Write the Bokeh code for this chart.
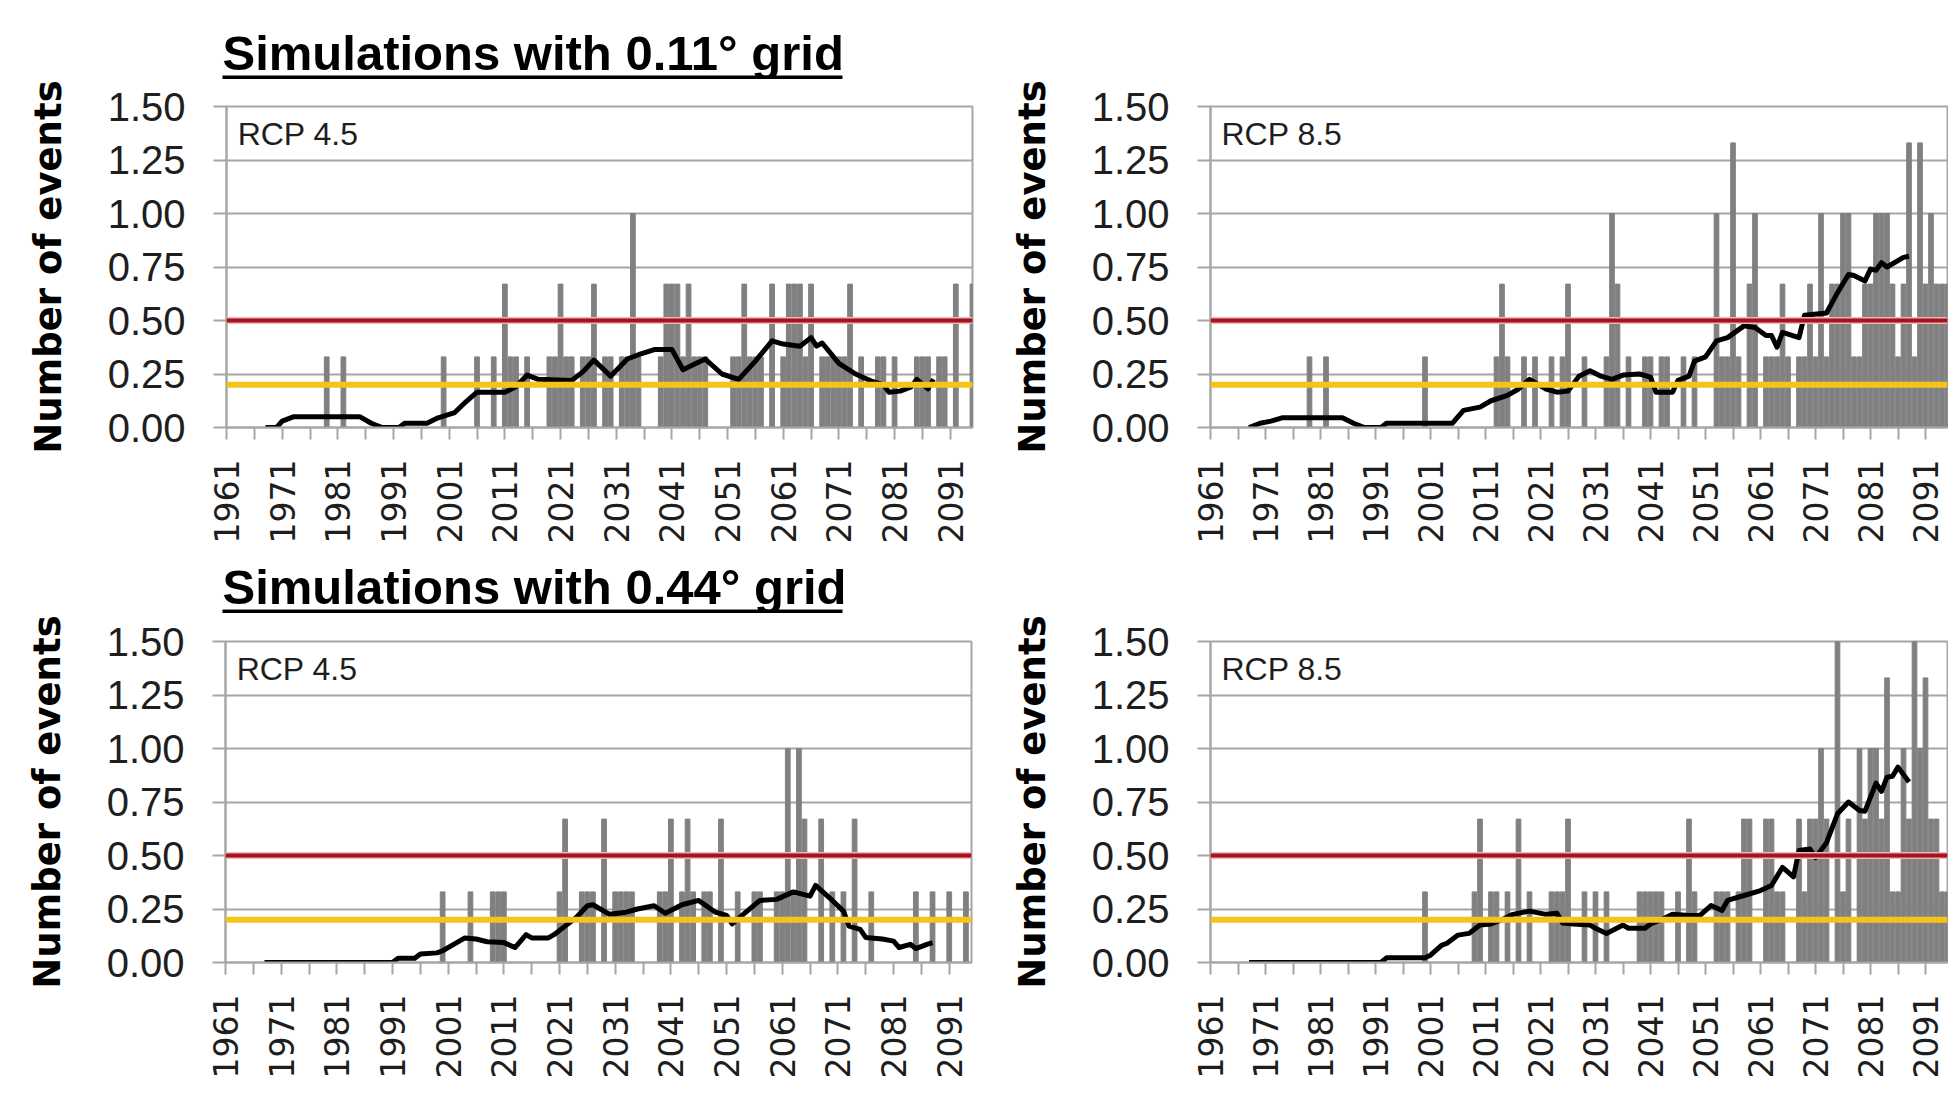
import math
from bokeh.plotting import figure
from bokeh.layouts import column, row
from bokeh.models import Range1d, FixedTicker, NumeralTickFormatter, Span, Label
from bokeh.core.properties import value
from bokeh.embed import file_html
from bokeh.resources import INLINE

# ---------------- data ----------------
title_top = "Simulations with 0.11\u00b0 grid"
title_bottom = "Simulations with 0.44\u00b0 grid"
y_label = "Number of events"
rcp_labels = ["RCP 4.5", "RCP 8.5", "RCP 4.5", "RCP 8.5"]

x_label_years = [1961, 1971, 1981, 1991, 2001, 2011, 2021, 2031, 2041, 2051, 2061, 2071, 2081, 2091]
x_tick_years = [1961, 1966, 1971, 1976, 1981, 1986, 1991, 1996, 2001, 2006, 2011, 2016, 2021, 2026,
                2031, 2036, 2041, 2046, 2051, 2056, 2061, 2066, 2071, 2076, 2081, 2086, 2091]
y_ticks = [0.0, 0.25, 0.5, 0.75, 1.0, 1.25, 1.5]
red_threshold = 0.5
yellow_threshold = 0.2

# yearly number of events (year, value) - 0.11 deg, RCP 4.5
tl_bars = [(1979, .33), (1982, .33), (2000, .33), (2006, .33), (2009, .33), (2011, .67), (2012, .33),
           (2013, .33), (2015, .33), (2019, .33), (2020, .33), (2021, .67), (2022, .33), (2023, .33),
           (2025, .33), (2026, .33), (2027, .67), (2029, .33), (2030, .33), (2032, .33), (2033, .33),
           (2034, 1.0), (2035, .33), (2039, .33), (2040, .67), (2041, .67), (2042, .67), (2043, .33),
           (2044, .67), (2045, .33), (2046, .33), (2047, .33), (2052, .33), (2053, .33), (2054, .67),
           (2055, .33), (2056, .33), (2057, .33), (2059, .67), (2061, .33), (2062, .67), (2063, .67),
           (2064, .67), (2065, .33), (2066, .67), (2068, .33), (2069, .33), (2070, .33), (2071, .33),
           (2072, .33), (2073, .67), (2075, .33), (2078, .33), (2079, .33), (2081, .33), (2085, .33),
           (2086, .33), (2087, .33), (2089, .33), (2090, .33), (2092, .67), (2095, .67)]
# 0.11 deg, RCP 8.5
tr_bars = [(1979, .33), (1982, .33), (2000, .33), (2013, .33), (2014, .67), (2015, .33), (2018, .33),
           (2020, .33), (2023, .33), (2025, .33), (2026, .67), (2029, .33), (2033, .33), (2034, 1.0),
           (2035, .67), (2037, .33), (2040, .33), (2041, .33), (2043, .33), (2044, .33), (2047, .33),
           (2049, .33), (2053, 1.0), (2054, .33), (2055, .33), (2056, 1.33), (2057, .33), (2059, .67),
           (2060, 1.0), (2062, .33), (2063, .33), (2064, .33), (2065, .67), (2066, .33), (2068, .33),
           (2069, .33), (2070, .67), (2071, .33), (2072, 1.0), (2073, .33), (2074, .67), (2075, .67),
           (2076, 1.0), (2077, 1.0), (2078, .33), (2079, .33), (2080, .67), (2081, .67), (2082, 1.0),
           (2083, 1.0), (2084, 1.0), (2085, .67), (2086, .33), (2087, .67), (2088, 1.33), (2089, .33),
           (2090, 1.33), (2091, .67), (2092, 1.0), (2093, .67), (2094, .67), (2095, .67)]
# 0.44 deg, RCP 4.5
bl_bars = [(2000, .33), (2005, .33), (2009, .33), (2010, .33), (2011, .33), (2021, .33), (2022, .67),
           (2025, .33), (2026, .33), (2027, .33), (2029, .67), (2031, .33), (2032, .33), (2033, .33),
           (2034, .33), (2039, .33), (2040, .33), (2041, .67), (2043, .33), (2044, .67), (2045, .33),
           (2047, .33), (2048, .33), (2050, .67), (2053, .33), (2056, .33), (2057, .33), (2060, .33),
           (2061, .33), (2062, 1.0), (2063, .33), (2064, 1.0), (2065, .67), (2068, .67), (2070, .33),
           (2072, .33), (2074, .67), (2077, .33), (2085, .33), (2088, .33), (2091, .33), (2094, .33)]
# 0.44 deg, RCP 8.5
br_bars = [(2000, .33), (2009, .33), (2010, .67), (2012, .33), (2013, .33), (2015, .33), (2017, .67),
           (2019, .33), (2023, .33), (2024, .33), (2025, .33), (2026, .67), (2029, .33), (2031, .33),
           (2033, .33), (2039, .33), (2040, .33), (2041, .33), (2042, .33), (2043, .33), (2046, .33),
           (2048, .67), (2049, .33), (2053, .33), (2054, .33), (2055, .33), (2057, .33), (2058, .67),
           (2059, .67), (2062, .67), (2063, .67), (2064, .33), (2065, .33), (2068, .67), (2069, .33),
           (2070, .67), (2071, .67), (2072, 1.0), (2073, .67), (2075, 1.5), (2076, .33), (2077, .67),
           (2079, 1.0), (2080, .67), (2081, 1.0), (2082, 1.0), (2083, .67), (2084, 1.33), (2085, .33),
           (2086, .33), (2087, 1.0), (2088, .67), (2089, 1.5), (2090, 1.0), (2091, 1.33), (2092, .67),
           (2093, .67), (2094, .33), (2095, .33)]

# moving averages (year, value)
tl_ma = [(1968, 0.0), (1970, 0.0), (1971, 0.03), (1973, 0.05), (1985, 0.05), (1987, 0.02), (1989, 0.0),
         (1992, 0.0), (1993, 0.02), (1997, 0.02), (1999, 0.045), (2002, 0.07), (2004, 0.12), (2006, 0.165),
         (2011, 0.165), (2013, 0.19), (2015, 0.245), (2017, 0.225), (2023, 0.22), (2025, 0.26),
         (2027, 0.315), (2030, 0.24), (2033, 0.32), (2035, 0.34), (2038, 0.365), (2041, 0.365),
         (2043, 0.27), (2045, 0.295), (2047, 0.32), (2050, 0.25), (2053, 0.225), (2056, 0.31),
         (2059, 0.405), (2061, 0.39), (2064, 0.38), (2066, 0.42), (2067, 0.38), (2068, 0.395),
         (2071, 0.3), (2074, 0.25), (2077, 0.215), (2079, 0.2), (2080, 0.165), (2082, 0.17),
         (2084, 0.19), (2085, 0.225), (2087, 0.18), (2088, 0.225)]
tr_ma = [(1968, 0.0), (1970, 0.02), (1972, 0.03), (1974, 0.045), (1985, 0.045), (1987, 0.02), (1989, 0.0),
         (1992, 0.0), (1993, 0.02), (2005, 0.02), (2007, 0.08), (2010, 0.095), (2012, 0.125), (2015, 0.15),
         (2017, 0.18), (2019, 0.225), (2022, 0.18), (2024, 0.165), (2026, 0.17), (2028, 0.24),
         (2030, 0.265), (2032, 0.24), (2034, 0.225), (2036, 0.245), (2039, 0.25), (2041, 0.235),
         (2042, 0.165), (2045, 0.165), (2046, 0.22), (2048, 0.24), (2049, 0.31), (2051, 0.33),
         (2053, 0.405), (2055, 0.42), (2058, 0.475), (2060, 0.467), (2062, 0.43), (2063, 0.43),
         (2064, 0.375), (2065, 0.445), (2068, 0.42), (2069, 0.525), (2073, 0.535), (2075, 0.63),
         (2077, 0.715), (2078, 0.71), (2080, 0.685), (2081, 0.74), (2082, 0.735), (2083, 0.77),
         (2084, 0.75), (2087, 0.795), (2088, 0.8)]
bl_ma = [(1968, 0.0), (1991, 0.0), (1992, 0.02), (1995, 0.02), (1996, 0.04), (1999, 0.045), (2000, 0.055),
         (2002, 0.085), (2004, 0.115), (2006, 0.11), (2008, 0.097), (2011, 0.093), (2013, 0.07),
         (2015, 0.13), (2016, 0.115), (2019, 0.115), (2020, 0.13), (2022, 0.17), (2024, 0.21),
         (2026, 0.265), (2027, 0.27), (2030, 0.225), (2033, 0.235), (2035, 0.25), (2038, 0.265),
         (2040, 0.23), (2043, 0.27), (2046, 0.29), (2049, 0.235), (2051, 0.22), (2052, 0.18),
         (2054, 0.225), (2057, 0.29), (2060, 0.295), (2063, 0.33), (2066, 0.31), (2067, 0.36),
         (2070, 0.29), (2072, 0.24), (2073, 0.17), (2075, 0.155), (2076, 0.117), (2079, 0.11),
         (2081, 0.1), (2082, 0.07), (2084, 0.085), (2085, 0.065), (2087, 0.085), (2088, 0.093)]
br_ma = [(1968, 0.0), (1992, 0.0), (1993, 0.022), (2000, 0.022), (2001, 0.034), (2003, 0.08), (2004, 0.09),
         (2006, 0.128), (2008, 0.136), (2010, 0.175), (2012, 0.18), (2014, 0.2), (2016, 0.225),
         (2019, 0.24), (2022, 0.225), (2024, 0.23), (2025, 0.185), (2027, 0.18), (2030, 0.175),
         (2031, 0.16), (2033, 0.136), (2036, 0.175), (2037, 0.16), (2040, 0.16), (2041, 0.18),
         (2043, 0.2), (2045, 0.225), (2048, 0.22), (2050, 0.22), (2052, 0.266), (2054, 0.243),
         (2055, 0.29), (2058, 0.313), (2061, 0.336), (2063, 0.36), (2065, 0.445), (2067, 0.4),
         (2068, 0.523), (2070, 0.53), (2071, 0.49), (2073, 0.56), (2075, 0.695), (2077, 0.75),
         (2079, 0.71), (2080, 0.707), (2082, 0.838), (2083, 0.8), (2084, 0.866), (2085, 0.87),
         (2086, 0.913), (2088, 0.843)]

# ---------------- style / layout ----------------
BAR = "#808080"
GRID = "#a6a6a6"
RED = "#a3131c"
RED_HALO = "#f0b4b4"
YELLOW = "#f4c41a"
TXT = "#1e1e1e"

LEFT_W, RIGHT_W = 990, 958
TOP_H, BOT_H = 471, 477
HEAD1_H, HEAD2_H = 79, 63


def header(title, height, ty, uy):
    w = LEFT_W + RIGHT_W
    h = figure(width=w, height=height, x_range=Range1d(0, w), y_range=Range1d(0, height),
               output_backend="svg", toolbar_location=None, min_border=0,
               x_axis_type=None, y_axis_type=None)
    h.outline_line_color = None
    h.text(x=[222], y=[ty], text=[title], text_font=value("Liberation Sans"),
           text_font_size="49px", text_font_style="bold", text_baseline="middle",
           text_align="left", text_color="black")
    h.segment(x0=[222], y0=[uy], x1=[842], y1=[uy], line_width=4, line_color="black")
    return h


def panel(bars, ma, rcp, width, height, left, right, top, bottom):
    p = figure(width=width, height=height, x_range=Range1d(1961, 2095), y_range=Range1d(0, 1.5),
               output_backend="svg", toolbar_location=None,
               min_border_left=left, min_border_right=right,
               min_border_top=top, min_border_bottom=bottom,
               background_fill_color="white", border_fill_color="white")
    years = [b[0] for b in bars]
    vals = [b[1] for b in bars]
    p.vbar(x=years, top=vals, bottom=0, width=0.85, fill_color=BAR, line_color=BAR, line_width=1)
    p.line([m[0] for m in ma], [m[1] for m in ma], line_width=5, line_color="black",
           line_join="round")
    p.add_layout(Span(location=yellow_threshold, dimension="width", line_color=YELLOW, line_width=6))
    p.add_layout(Span(location=red_threshold, dimension="width", line_color=RED_HALO, line_width=7))
    p.add_layout(Span(location=red_threshold, dimension="width", line_color=RED, line_width=4))
    p.add_layout(Label(x=1963, y=1.37, text=rcp, text_font="Liberation Sans", text_font_size="32px",
                       text_baseline="middle", text_align="left", text_color=TXT))

    p.xgrid.visible = False
    p.ygrid.grid_line_color = GRID
    p.ygrid.grid_line_width = 2
    p.outline_line_color = GRID
    p.outline_line_width = 2

    xa = p.xaxis[0]
    xa.ticker = FixedTicker(ticks=x_label_years, minor_ticks=x_tick_years)
    xa.axis_line_color = GRID
    xa.axis_line_width = 2
    xa.major_tick_line_color = None
    xa.major_tick_out = 12
    xa.major_tick_in = 0
    xa.minor_tick_line_color = GRID
    xa.minor_tick_line_width = 2
    xa.minor_tick_out = 12
    xa.minor_tick_in = 0
    xa.major_label_orientation = math.pi / 2
    xa.major_label_standoff = 20
    xa.major_label_text_font = "DejaVu Sans"
    xa.major_label_text_font_size = "33px"
    xa.major_label_text_color = TXT

    ya = p.yaxis[0]
    ya.ticker = FixedTicker(ticks=y_ticks)
    ya.formatter = NumeralTickFormatter(format="0.00")
    ya.axis_line_color = GRID
    ya.axis_line_width = 2
    ya.major_tick_line_color = GRID
    ya.major_tick_line_width = 2
    ya.major_tick_out = 13
    ya.major_tick_in = 0
    ya.minor_tick_line_color = None
    ya.major_label_standoff = 28
    ya.major_label_text_font = "Liberation Sans"
    ya.major_label_text_font_size = "40px"
    ya.major_label_text_color = TXT
    ya.axis_label = y_label
    ya.axis_label_text_font = "DejaVu Sans"
    ya.axis_label_text_font_style = "bold"
    ya.axis_label_text_font_size = "37px"
    ya.axis_label_text_color = "black"
    ya.axis_label_standoff = 35
    return p


h1 = header(title_top, HEAD1_H, 27, 2)
h2 = header(title_bottom, HEAD2_H, 27, 2)
tl = panel(tl_bars, tl_ma, rcp_labels[0], LEFT_W, TOP_H, 226, 18, 27, 123)
tr = panel(tr_bars, tr_ma, rcp_labels[1], RIGHT_W, TOP_H, 220, 1, 27, 123)
bl = panel(bl_bars, bl_ma, rcp_labels[2], LEFT_W, BOT_H, 225, 19, 28, 128)
br = panel(br_bars, br_ma, rcp_labels[3], RIGHT_W, BOT_H, 220, 1, 28, 128)

layout = column(h1, row(tl, tr), h2, row(bl, br))
open("out.html", "w").write(file_html(layout, INLINE))
